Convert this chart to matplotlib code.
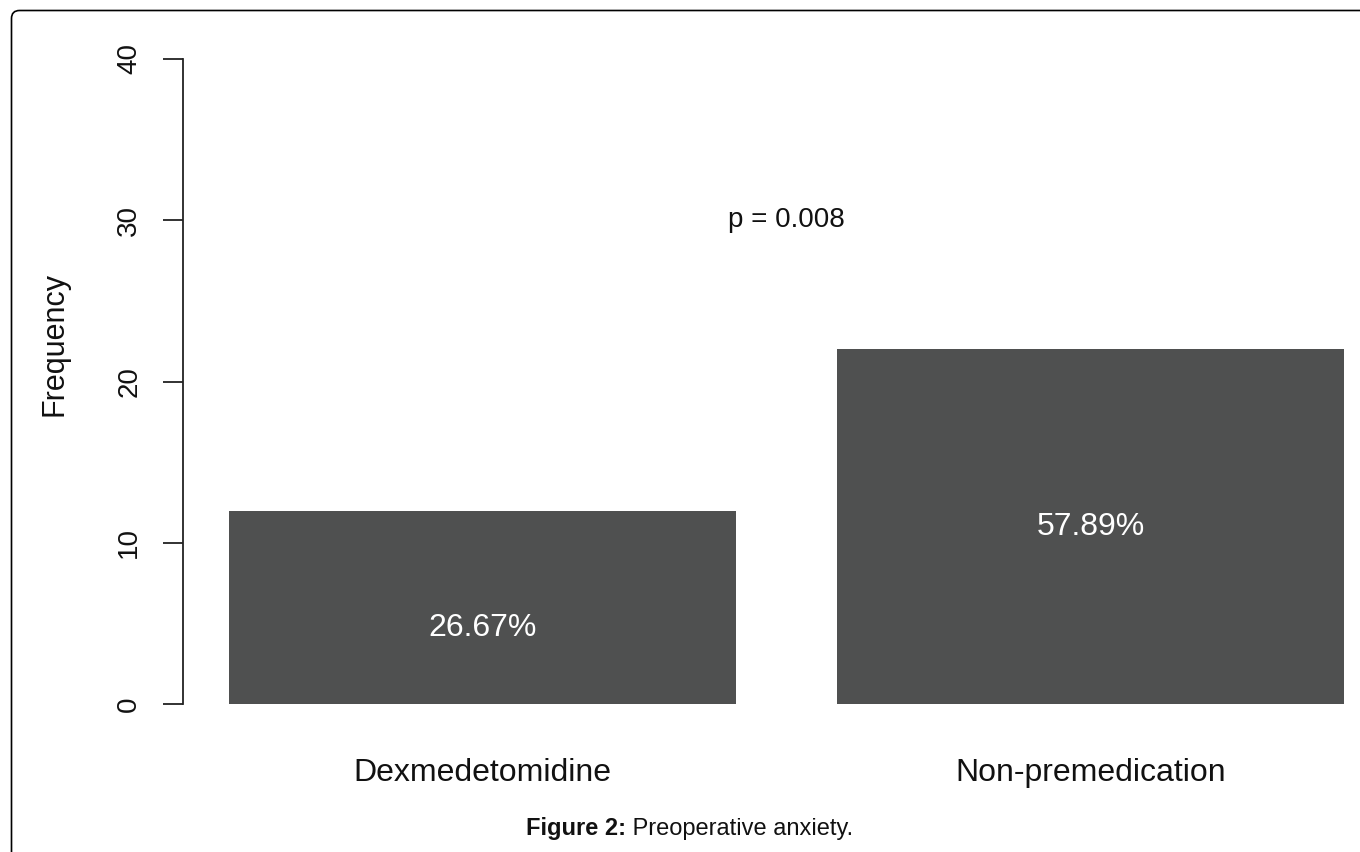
import matplotlib
matplotlib.use("Agg")
import matplotlib.pyplot as plt
from matplotlib.patches import FancyBboxPatch
from matplotlib.transforms import IdentityTransform

plt.rcParams['font.family'] = ['Liberation Sans', 'DejaVu Sans']

groups = ["Dexmedetomidine", "Non-premedication"]
frequency = [12, 22]
percent_labels = ["26.67%", "57.89%"]
label_heights = [4.7, 11.0]
p_text = "p = 0.008"
y_ticks = [0, 10, 20, 30, 40]

W, H = 1360, 852
fig = plt.figure(figsize=(W / 100, H / 100), dpi=100)

# axes placed in pixels: y=0 at 704, y=40 at 59, axis line at x=183
ax = fig.add_axes([183 / W, 148 / H, 1167 / W, 645 / H])
bar_x = [0.7, 1.9]  # R barplot: width 1, space 0.2
ax.bar(bar_x, frequency, width=1.0, color="#4f5050", edgecolor="none")
ax.set_xlim(0.1093, 2.411)
ax.set_ylim(0, 40)

for x, h, lab in zip(bar_x, label_heights, percent_labels):
    ax.text(x, h, lab, color="white", fontsize=23, ha="center", va="center")

ax.text(1.3, 30, p_text, fontsize=20, ha="center", va="center", color="#111111")

for x, name in zip(bar_x, groups):
    ax.text(x, -0.1194, name, fontsize=23, ha="center", va="baseline",
            color="#111111", transform=ax.get_xaxis_transform())

for s in ["top", "right", "bottom"]:
    ax.spines[s].set_visible(False)
ax.spines["left"].set_color("#222222")
ax.spines["left"].set_linewidth(1.3)
ax.spines["left"].set_bounds(0, 40)
ax.set_xticks([])
ax.set_yticks(y_ticks)
ax.set_yticklabels([str(t) for t in y_ticks], rotation=90, va="center",
                   fontsize=20, color="#111111")
ax.tick_params(axis="y", length=14.4, width=1.3, color="#222222", pad=15)

fig.text(54 / W, 1 - 344 / H, "Frequency", rotation=90, fontsize=22,
         ha="center", va="center", color="#111111")

t1 = fig.text(526 / W, 1 - 835 / H, "Figure 2:", fontsize=17, fontweight="bold",
              ha="left", va="baseline", color="#111111")
fig.add_artist(plt.Annotation(" Preoperative anxiety.", xy=(1, 0), xycoords=t1,
                              fontsize=17, ha="left", va="bottom", color="#111111"))

border = FancyBboxPatch((11.5, -40), 1400, H - 10.5 + 40,
                        boxstyle="round,pad=0,rounding_size=8",
                        transform=IdentityTransform(), fill=False,
                        edgecolor="black", linewidth=1.2)
fig.add_artist(border)

fig.savefig("out.png", dpi=100)
